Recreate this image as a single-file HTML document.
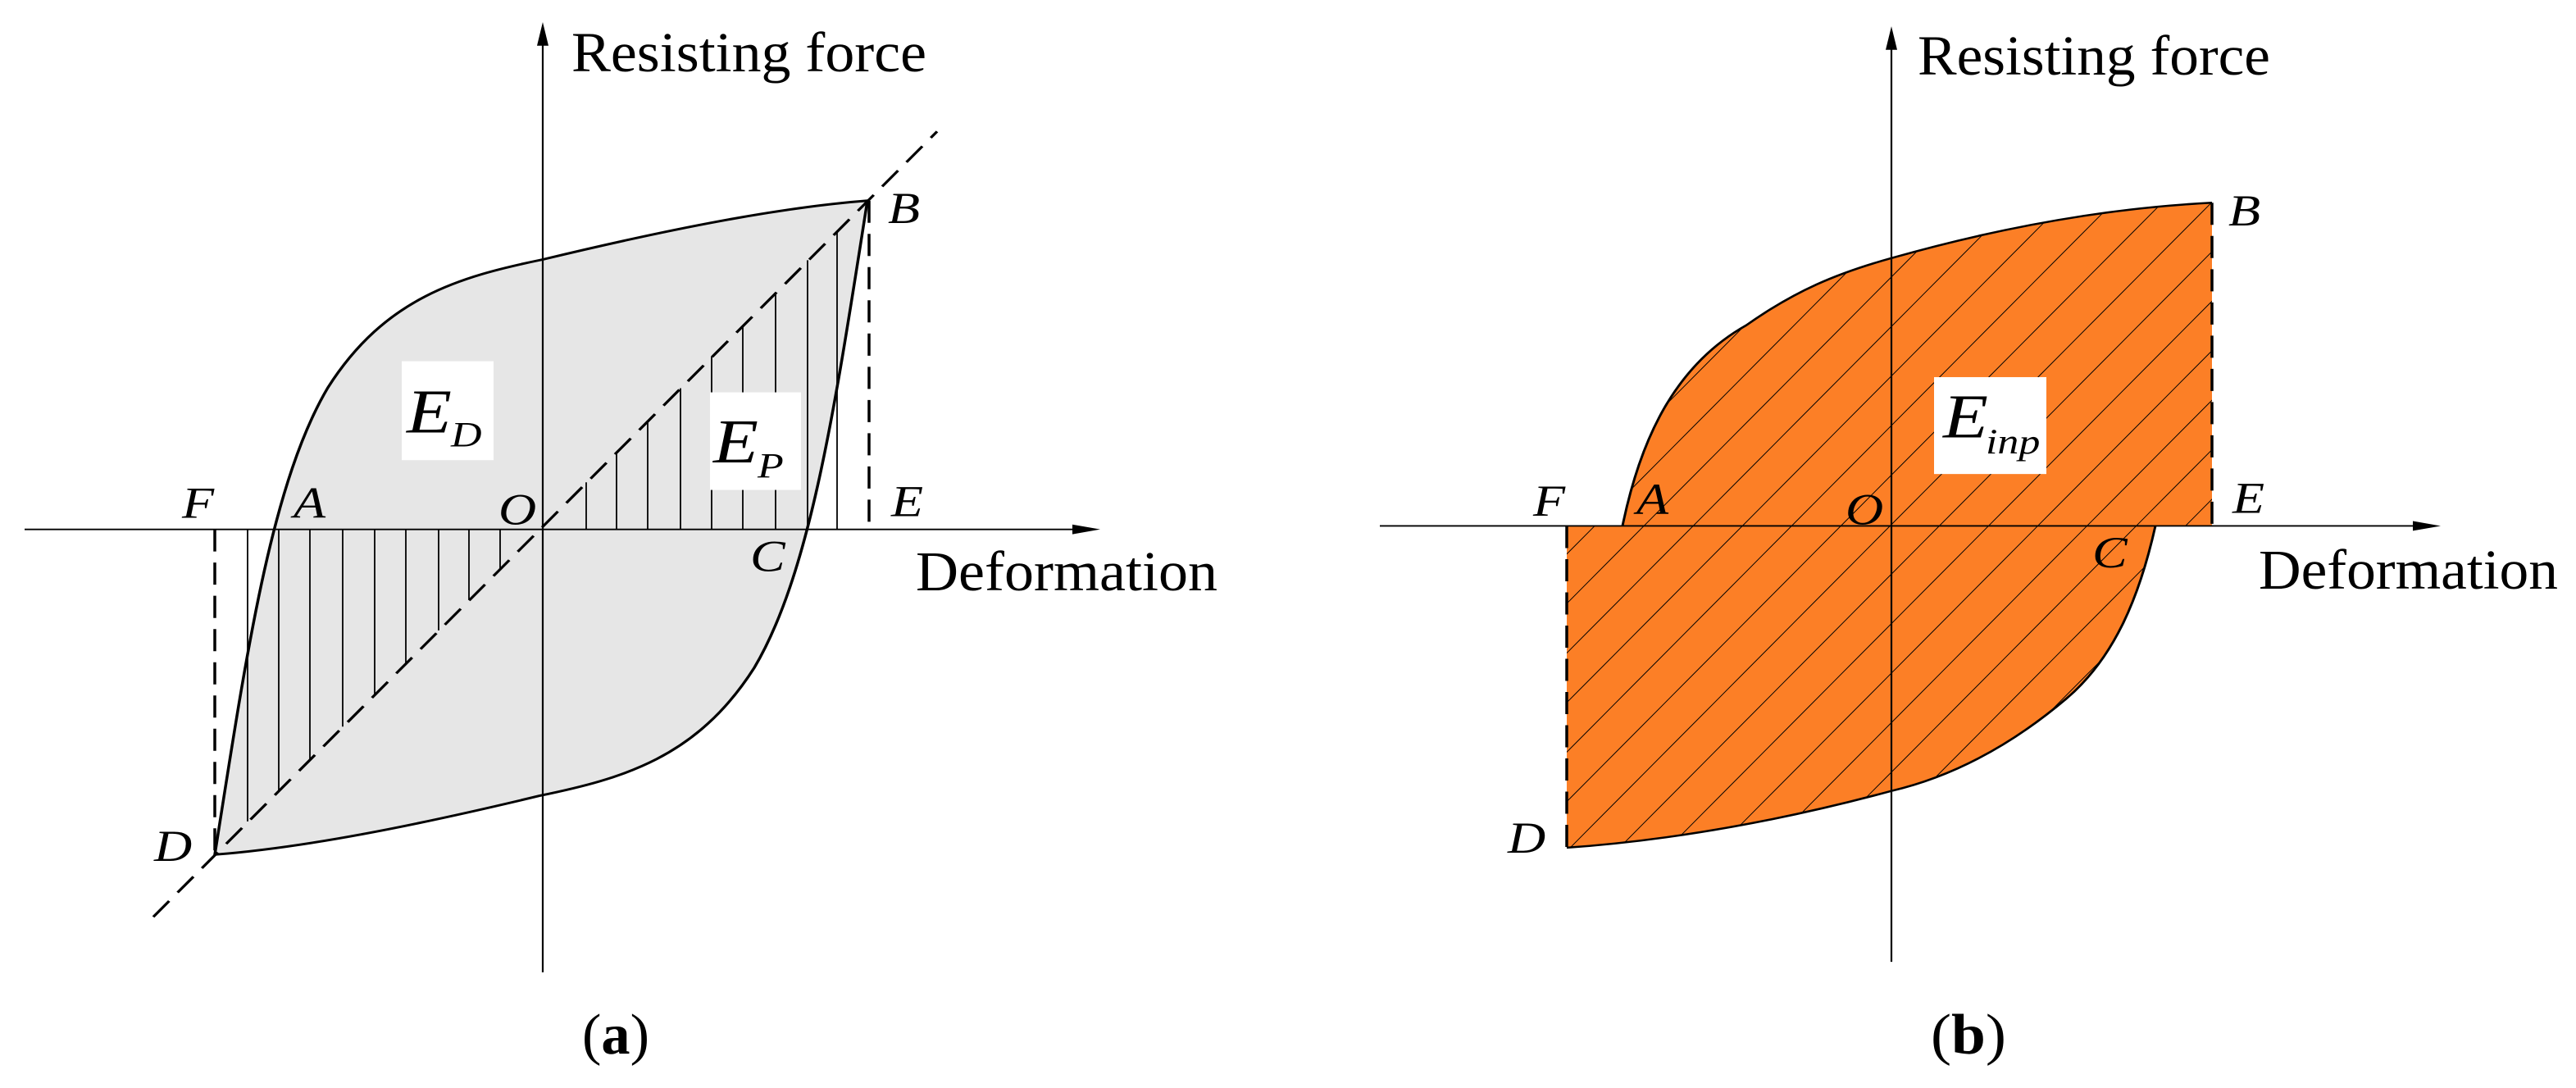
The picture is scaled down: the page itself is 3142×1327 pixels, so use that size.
<!DOCTYPE html>
<html><head><meta charset="utf-8"><style>html,body{margin:0;padding:0;background:#fff}svg{display:block}</style></head>
<body>
<svg width="3142" height="1327" viewBox="0 0 3142 1327" xmlns="http://www.w3.org/2000/svg" font-family="Liberation Serif, serif">
<defs>
<pattern id="hat" width="46" height="46" patternUnits="userSpaceOnUse" patternTransform="rotate(-50)">
<line x1="0" y1="0" x2="46" y2="0" stroke="#000" stroke-width="2.2"/>
</pattern>
<clipPath id="cb"><path d="M1911,760 L1979,760 C2000,640 2040,530 2130,470 C2190,420 2240,395 2307,373 C2450,325 2580,300 2698,293 L2698,760 L2629,760 C2610,860 2580,950 2520,1010 C2460,1070 2390,1120 2307,1143 C2160,1190 2030,1215 1911,1225 Z"/></clipPath>
</defs>
<g transform="scale(1,0.844)">
<!-- LEFT -->
<path d="M262,1235 C300,950 330,700 400,560 C470,430 560,400 662,375 C820,330 950,300 1058,290 C1020,575 990,825 920,965 C850,1095 760,1125 658,1150 C500,1195 370,1225 262,1235Z" fill="#e6e6e6" stroke="#000" stroke-width="3.5"/>
<g stroke="#000" stroke-width="1.8">
<line x1="302" y1="765" x2="302" y2="1187"/>
<line x1="340" y1="765" x2="340" y2="1142"/>
<line x1="378" y1="765" x2="378" y2="1097"/>
<line x1="418" y1="765" x2="418" y2="1050"/>
<line x1="457" y1="765" x2="457" y2="1003"/>
<line x1="495" y1="765" x2="495" y2="958"/>
<line x1="535" y1="765" x2="535" y2="911"/>
<line x1="572" y1="765" x2="572" y2="867"/>
<line x1="610" y1="765" x2="610" y2="822"/>
<line x1="715" y1="765" x2="715" y2="697"/>
<line x1="752" y1="765" x2="752" y2="653"/>
<line x1="790" y1="765" x2="790" y2="608"/>
<line x1="830" y1="765" x2="830" y2="561"/>
<line x1="868" y1="765" x2="868" y2="515"/>
<line x1="906" y1="765" x2="906" y2="470"/>
<line x1="946" y1="765" x2="946" y2="423"/>
<line x1="985" y1="765" x2="985" y2="376"/>
<line x1="1021" y1="765" x2="1021" y2="334"/>
</g>
<line x1="187" y1="1325" x2="1143" y2="190" stroke="#000" stroke-width="3.5" stroke-dasharray="30,16"/>
<line x1="262" y1="765" x2="262" y2="1235" stroke="#000" stroke-width="3.5" stroke-dasharray="32,16"/>
<line x1="1060" y1="290" x2="1060" y2="765" stroke="#000" stroke-width="3.5" stroke-dasharray="32,16"/>
<line x1="30" y1="765" x2="1320" y2="765" stroke="#000" stroke-width="2.2"/>
<polygon points="1342,765 1308,758 1308,772" fill="#000"/>
<line x1="662" y1="1405" x2="662" y2="55" stroke="#000" stroke-width="2.2"/>
<polygon points="662,32 655,66 669,66" fill="#000"/>
<rect x="490" y="522" width="112" height="143" fill="#fff"/>
<rect x="866" y="567" width="111" height="141" fill="#fff"/>
<text x="496" y="625" font-size="90" font-style="italic">E</text>
<text x="550" y="645" font-size="52" font-style="italic">D</text>
<text x="870" y="668" font-size="90" font-style="italic">E</text>
<text x="924" y="690" font-size="52" font-style="italic">P</text>
<g font-size="64" font-style="italic">
<text x="222" y="748">F</text><text x="358" y="748">A</text><text x="608" y="758">O</text>
<text x="915" y="825">C</text><text x="1087" y="746">E</text><text x="1083" y="322">B</text><text x="188" y="1244">D</text>
</g>
<text x="697" y="103" font-size="82" textLength="433" lengthAdjust="spacingAndGlyphs">Resisting force</text>
<text x="1117" y="853" font-size="82" textLength="368" lengthAdjust="spacingAndGlyphs">Deformation</text>
<!-- RIGHT -->
<path d="M1911,760 L1979,760 C2000,640 2040,530 2130,470 C2190,420 2240,395 2307,373 C2450,325 2580,300 2698,293 L2698,760 L2629,760 C2610,860 2580,950 2520,1010 C2460,1070 2390,1120 2307,1143 C2160,1190 2030,1215 1911,1225 Z" fill="#fc7f26"/>
<rect x="1850" y="250" width="900" height="1000" fill="url(#hat)" clip-path="url(#cb)"/>
<path d="M1979,760 C2000,640 2040,530 2130,470 C2190,420 2240,395 2307,373 C2450,325 2580,300 2698,293" fill="none" stroke="#000" stroke-width="3"/>
<path d="M2629,760 C2610,860 2580,950 2520,1010 C2460,1070 2390,1120 2307,1143 C2160,1190 2030,1215 1911,1225" fill="none" stroke="#000" stroke-width="3"/>
<line x1="1911" y1="760" x2="1911" y2="1225" stroke="#000" stroke-width="3.5" stroke-dasharray="32,16"/>
<line x1="2698" y1="293" x2="2698" y2="760" stroke="#000" stroke-width="3.5" stroke-dasharray="32,16"/>
<line x1="1683" y1="760" x2="2955" y2="760" stroke="#000" stroke-width="2.2"/>
<polygon points="2977,760 2943,753 2943,767" fill="#000"/>
<line x1="2307" y1="1390" x2="2307" y2="60" stroke="#000" stroke-width="2.2"/>
<polygon points="2307,38 2300,72 2314,72" fill="#000"/>
<rect x="2359" y="545" width="137" height="140" fill="#fff"/>
<text x="2370" y="632" font-size="90" font-style="italic">E</text>
<text x="2422" y="655" font-size="52" font-style="italic">inp</text>
<g font-size="64" font-style="italic">
<text x="1870" y="745">F</text><text x="1996" y="743">A</text><text x="2251" y="758">O</text>
<text x="2552" y="820">C</text><text x="2723" y="741">E</text><text x="2718" y="326">B</text><text x="1839" y="1232">D</text>
</g>
<text x="2339" y="108" font-size="82" textLength="430" lengthAdjust="spacingAndGlyphs">Resisting force</text>
<text x="2755" y="851" font-size="82" textLength="365" lengthAdjust="spacingAndGlyphs">Deformation</text>
</g>
<text x="710" y="1285" font-size="70" textLength="82" lengthAdjust="spacingAndGlyphs">(<tspan font-weight="bold">a</tspan>)</text>
<text x="2355" y="1285" font-size="70" textLength="92" lengthAdjust="spacingAndGlyphs">(<tspan font-weight="bold">b</tspan>)</text>
</svg>
</body></html>
